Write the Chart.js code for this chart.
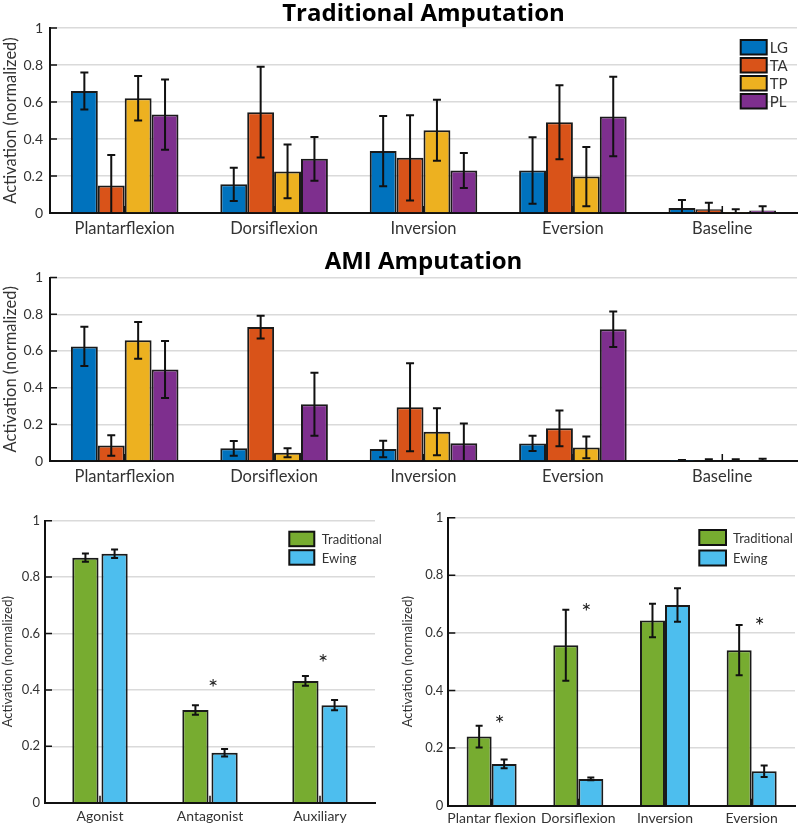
<!DOCTYPE html>
<html>
<head>
<meta charset="utf-8">
<script src="https://cdn.jsdelivr.net/npm/chart.js@4"></script>
<style>
  body { margin: 0; background: #fff; }
  .panel { position: absolute; }
</style>
</head>
<body>
<div class="panel" style="left:0;top:0;width:800px;height:246px"><canvas id="trad"></canvas></div>
<div class="panel" style="left:0;top:248px;width:800px;height:244px"><canvas id="ami"></canvas></div>
<div class="panel" style="left:0;top:500px;width:400px;height:325px"><canvas id="roles"></canvas></div>
<div class="panel" style="left:400px;top:500px;width:400px;height:325px"><canvas id="moves"></canvas></div>
<script>
const FONT = 'Lato, "DejaVu Sans", sans-serif';
const TITLE_FONT = '"Open Sans", Lato, sans-serif';

// top two panels
const movements = ['Plantarflexion', 'Dorsiflexion', 'Inversion', 'Eversion', 'Baseline'];
const muscles = ['LG', 'TA', 'TP', 'PL'];
const muscleColors = ['#0072BD', '#D95319', '#EDB120', '#7E2F8E'];

const tradLG = [0.66, 0.155, 0.335, 0.23, 0.027];
const tradTA = [0.148, 0.545, 0.298, 0.49, 0.02];
const tradTP = [0.62, 0.225, 0.447, 0.197, 0.006];
const tradPL = [0.532, 0.293, 0.23, 0.522, 0.014];
const tradLGErr = [0.1, 0.09, 0.19, 0.18, 0.043];
const tradTAErr = [0.165, 0.245, 0.23, 0.2, 0.036];
const tradTPErr = [0.12, 0.145, 0.165, 0.16, 0.014];
const tradPLErr = [0.19, 0.118, 0.095, 0.215, 0.023];

const amiLG = [0.625, 0.069, 0.066, 0.096, 0.002];
const amiTA = [0.084, 0.73, 0.293, 0.178, 0.003];
const amiTP = [0.658, 0.045, 0.159, 0.074, 0.003];
const amiPL = [0.499, 0.309, 0.097, 0.718, 0.004];
const amiLGErr = [0.107, 0.04, 0.045, 0.042, 0.004];
const amiTAErr = [0.056, 0.062, 0.24, 0.098, 0.006];
const amiTPErr = [0.1, 0.025, 0.128, 0.059, 0.006];
const amiPLErr = [0.155, 0.172, 0.107, 0.097, 0.008];

// bottom panels
const groupNames = ['Traditional', 'Ewing'];
const groupColors = ['#77AC30', '#4DBEEE'];

const roles = ['Agonist', 'Antagonist', 'Auxiliary'];
const rolesTrad = [0.869, 0.329, 0.432];
const rolesTradErr = [0.015, 0.017, 0.017];
const rolesEwing = [0.883, 0.177, 0.346];
const rolesEwingErr = [0.015, 0.013, 0.018];
const rolesStars = [null, 0.429, 0.518];

const moves = ['Plantar flexion', 'Dorsiflexion', 'Inversion', 'Eversion'];
const movesTrad = [0.24, 0.557, 0.643, 0.54];
const movesTradErr = [0.038, 0.123, 0.058, 0.087];
const movesEwing = [0.145, 0.093, 0.697, 0.12];
const movesEwingErr = [0.015, 0.005, 0.058, 0.02];
const movesStars = [0.303, 0.693, null, 0.645];

// inward tick marks like the original axes
const innerTicks = {
  id: 'innerTicks',
  beforeDatasetsDraw(chart) {
    const { ctx, chartArea: a, scales: { x, y } } = chart;
    ctx.save();
    ctx.strokeStyle = '#111';
    ctx.lineWidth = 1.5;
    ctx.beginPath();
    y.ticks.forEach(t => {
      const py = y.getPixelForValue(t.value);
      ctx.moveTo(a.left, py);
      ctx.lineTo(a.left + 7, py);
    });
    chart.data.labels.forEach((l, i) => {
      const px = x.getPixelForValue(i);
      ctx.moveTo(px, a.bottom);
      ctx.lineTo(px, a.bottom - 7);
    });
    ctx.stroke();
    ctx.restore();
  }
};

const errorBars = {
  id: 'errorBars',
  afterDatasetsDraw(chart, args, opts) {
    const { ctx, chartArea: a, scales: { y } } = chart;
    const cap = opts.cap || 4;
    ctx.save();
    ctx.beginPath();
    ctx.rect(a.left, a.top - 5, a.width, a.height + 5);
    ctx.clip();
    ctx.strokeStyle = '#111';
    ctx.lineWidth = 2;
    chart.data.datasets.forEach((ds, i) => {
      chart.getDatasetMeta(i).data.forEach((bar, j) => {
        const v = ds.data[j], e = ds.errors[j];
        const top = y.getPixelForValue(v + e);
        const bot = y.getPixelForValue(v - e);
        ctx.beginPath();
        ctx.moveTo(bar.x, top); ctx.lineTo(bar.x, bot);
        ctx.moveTo(bar.x - cap, top); ctx.lineTo(bar.x + cap, top);
        ctx.moveTo(bar.x - cap, bot); ctx.lineTo(bar.x + cap, bot);
        ctx.stroke();
      });
    });
    ctx.restore();
  }
};

const boxLegend = {
  id: 'boxLegend',
  afterDraw(chart, args, o) {
    if (!o || !o.show) return;
    const { ctx, chartArea: a } = chart;
    ctx.save();
    chart.data.datasets.forEach((ds, i) => {
      const x = a.right - o.right;
      const y = a.top + o.top + i * o.step;
      ctx.fillStyle = ds.backgroundColor;
      ctx.fillRect(x, y, o.w, o.h);
      ctx.strokeStyle = '#111';
      ctx.lineWidth = 2;
      ctx.strokeRect(x, y, o.w, o.h);
      ctx.fillStyle = '#333';
      ctx.font = o.size + 'px ' + FONT;
      ctx.textBaseline = 'middle';
      ctx.textAlign = 'left';
      ctx.fillText(ds.label, x + o.w + o.gap, y + o.h / 2 + 1);
    });
    ctx.restore();
  }
};

const stars = {
  id: 'stars',
  afterDatasetsDraw(chart, args, o) {
    if (!o || !o.values) return;
    const { ctx, scales: { x, y } } = chart;
    ctx.save();
    ctx.fillStyle = '#222';
    ctx.font = '24px ' + FONT;
    ctx.textAlign = 'center';
    ctx.textBaseline = 'alphabetic';
    o.values.forEach((v, i) => {
      if (v == null) return;
      ctx.fillText('*', x.getPixelForValue(i) + o.dx, y.getPixelForValue(v) + 14);
    });
    ctx.restore();
  }
};

function series(labels, colors, values, errors) {
  return labels.map((l, i) => ({
    label: l,
    data: values[i],
    errors: errors[i],
    backgroundColor: colors[i]
  }));
}

function buildChart(id, labels, datasets, o) {
  return new Chart(document.getElementById(id), {
    type: 'bar',
    data: { labels, datasets },
    options: {
      responsive: true,
      maintainAspectRatio: false,
      animation: false,
      layout: { padding: o.pad },
      datasets: {
        bar: {
          categoryPercentage: o.cat,
          barPercentage: o.bar,
          borderWidth: 2,
          borderColor: '#1a1a1a'
        }
      },
      plugins: {
        legend: { display: false },
        tooltip: { enabled: false },
        title: o.title ? {
          display: true, text: o.title, color: '#000', fullSize: false,
          font: { family: TITLE_FONT, size: 24, weight: 'bold', lineHeight: 1.15 },
          padding: { top: 0, bottom: o.titleGap }
        } : { display: false },
        errorBars: { cap: o.cap },
        boxLegend: o.legend || {},
        stars: o.stars || {}
      },
      scales: {
        x: {
          grid: { display: false, drawTicks: false },
          border: { display: true, color: '#111', width: 2 },
          ticks: { color: '#333', font: { family: FONT, size: o.xFont }, padding: o.xPad, maxRotation: 0, autoSkip: false },
          afterFit: s => { s.height = o.xH; }
        },
        y: {
          min: 0, max: 1,
          ticks: {
            stepSize: 0.2, color: '#333', padding: o.yPad,
            font: { family: FONT, size: o.yFont },
            callback: v => String(Math.round(v * 10) / 10)
          },
          grid: { color: '#dadada', lineWidth: 1.5, drawTicks: false },
          border: { color: '#111', width: 2 },
          title: {
            display: true, text: 'Activation (normalized)', color: '#333',
            font: { family: FONT, size: o.yTitle },
            padding: { top: o.yTitlePad, bottom: 0 }
          },
          afterFit: s => { s.width = o.yW; }
        }
      }
    },
    plugins: [innerTicks, errorBars, boxLegend, stars]
  });
}

buildChart('trad', movements,
  series(muscles, muscleColors, [tradLG, tradTA, tradTP, tradPL], [tradLGErr, tradTAErr, tradTPErr, tradPLErr]),
  { title: 'Traditional Amputation', titleGap: 0.4, pad: { left: 0, right: 3, top: 0, bottom: 0 },
    cat: 0.72, bar: 1, cap: 4, xFont: 16.5, xPad: 6, xH: 33, yFont: 14, yPad: 7, yW: 50, yTitle: 16.5, yTitlePad: 1,
    legend: { show: true, right: 56.3, top: 12, w: 26, h: 14.5, step: 18, size: 15, gap: 3 } });

buildChart('ami', movements,
  series(muscles, muscleColors, [amiLG, amiTA, amiTP, amiPL], [amiLGErr, amiTAErr, amiTPErr, amiPLErr]),
  { title: 'AMI Amputation', titleGap: 2, pad: { left: 0, right: 3, top: 0, bottom: 0 },
    cat: 0.72, bar: 1, cap: 4, xFont: 16.5, xPad: 6, xH: 31, yFont: 14, yPad: 7, yW: 50, yTitle: 16.5, yTitlePad: 1 });

buildChart('roles', roles,
  series(groupNames, groupColors, [rolesTrad, rolesEwing], [rolesTradErr, rolesEwingErr]),
  { pad: { left: 0, right: 25, top: 20.7, bottom: 0 },
    cat: 0.53, bar: 0.9, cap: 3.5, xFont: 14, xPad: 5.5, xH: 22.3, yFont: 13, yPad: 5, yW: 45, yTitle: 13, yTitlePad: 0,
    legend: { show: true, right: 85.7, top: 11, w: 25, h: 14.5, step: 18.5, size: 13, gap: 7.5 },
    stars: { values: rolesStars, dx: 3 } });

buildChart('moves', moves,
  series(groupNames, groupColors, [movesTrad, movesEwing], [movesTradErr, movesEwingErr]),
  { pad: { left: 0, right: 5, top: 17.7, bottom: 0 },
    cat: 0.577, bar: 1, cap: 3.5, xFont: 14, xPad: 4, xH: 19.3, yFont: 13, yPad: 5, yW: 48.3, yTitle: 13, yTitlePad: 0,
    legend: { show: true, right: 95.7, top: 12.3, w: 26.7, h: 15, step: 20.5, size: 13, gap: 7 },
    stars: { values: movesStars, dx: 8 } });
</script>
</body>
</html>
